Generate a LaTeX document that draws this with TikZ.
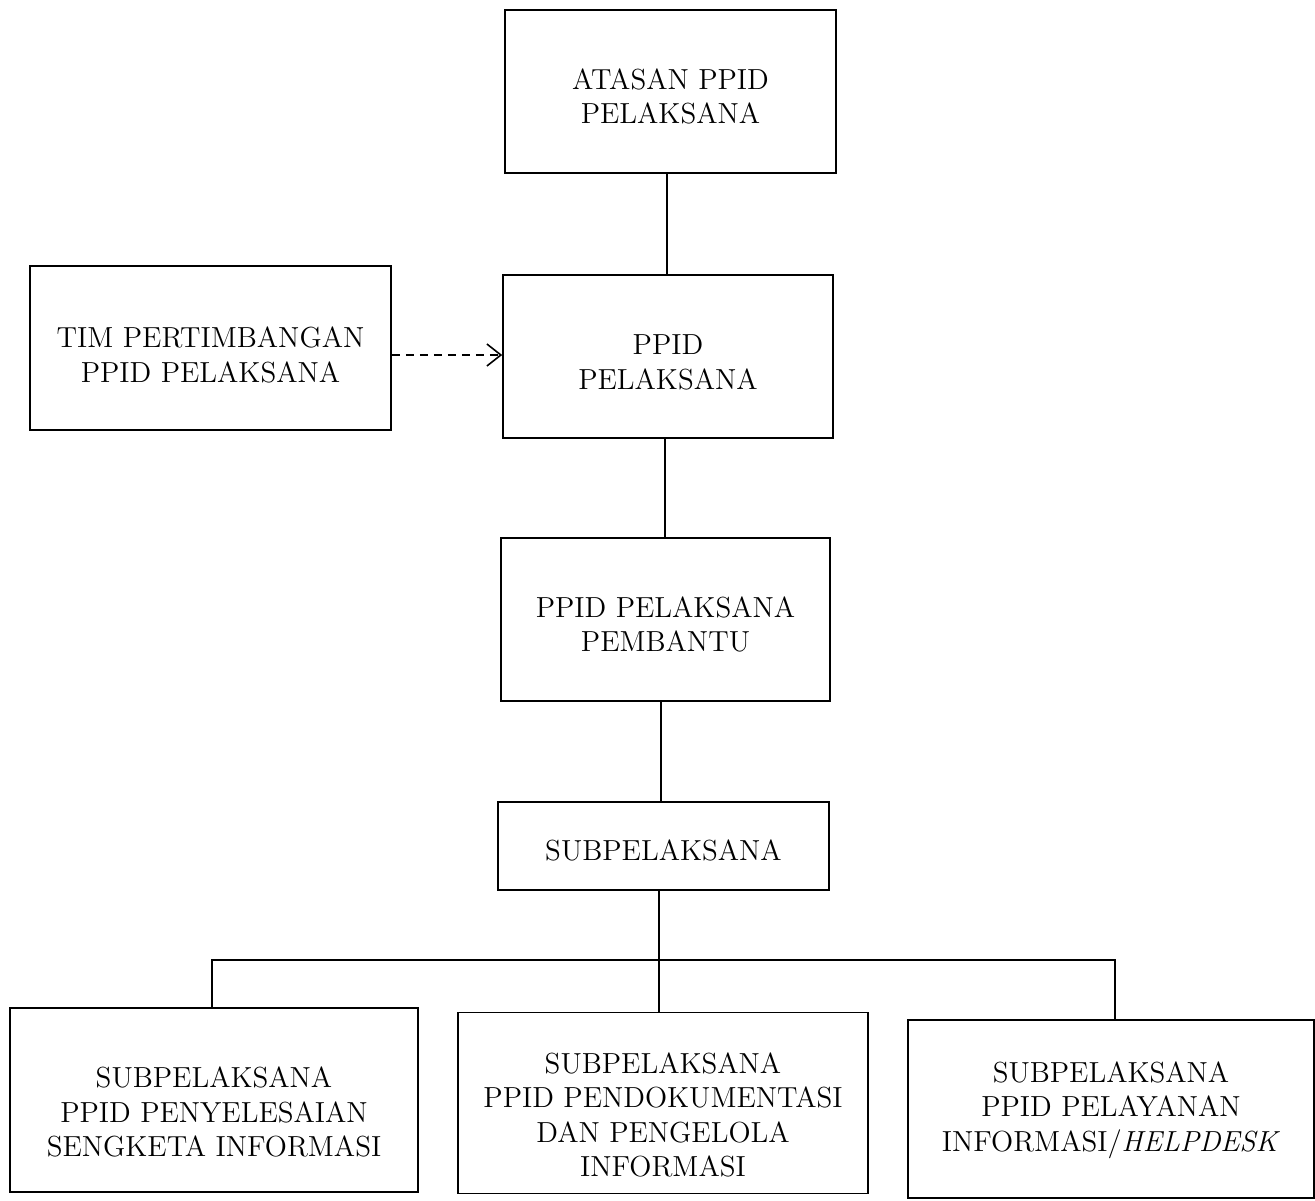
\documentclass[tikz,border=0pt]{standalone}
\usetikzlibrary{arrows.meta}
\begin{document}
\begin{tikzpicture}[x=0.5pt,y=-0.5pt,
  orgbox/.style={draw, line width=0.8pt, inner sep=0pt},
  txt/.style={align=center, inner sep=0pt, font=\fontsize{14.5}{17.3}\selectfont},
  conn/.style={line width=0.7pt},
  dashconn/.style={line width=0.8pt, dash pattern=on 4pt off 3pt,
    -{Straight Barb[length=7pt,width=11pt,line width=0.8pt]}}]
\useasboundingbox (0,0) rectangle (1315,1200);
\node[orgbox, minimum width=165.5pt, minimum height=81.5pt,
  label={[txt,yshift=-2.5pt]center:ATASAN PPID\\PELAKSANA}] (top) at (670.5,91.5) {};
\node[orgbox, minimum width=165pt, minimum height=81.5pt,
  label={[txt,yshift=-3pt]center:PPID\\PELAKSANA}] (ppid) at (668,356.5) {};
\node[orgbox, minimum width=180.5pt, minimum height=82pt,
  label={[txt,yshift=-3.5pt]center:TIM PERTIMBANGAN\\PPID PELAKSANA}] (tim) at (210.5,348) {};
\node[orgbox, minimum width=164.5pt, minimum height=81.5pt,
  label={[txt,yshift=-2.5pt]center:PPID PELAKSANA\\PEMBANTU}] (pemb) at (665.5,619.5) {};
\node[orgbox, minimum width=165.5pt, minimum height=44pt,
  label={[txt,yshift=-2pt]center:SUBPELAKSANA}] (sub) at (663.5,846) {};
\node[orgbox, minimum width=204pt, minimum height=92pt,
  label={[txt,yshift=-6pt]center:SUBPELAKSANA\\PPID PENYELESAIAN\\SENGKETA INFORMASI}] (left) at (214,1100) {};
\node[orgbox, minimum width=205pt, minimum height=90.5pt,
  label={[txt,yshift=-6pt]center:SUBPELAKSANA\\PPID PENDOKUMENTASI\\DAN PENGELOLA\\INFORMASI}] (mid) at (663,1103) {};
\node[orgbox, minimum width=203pt, minimum height=89pt,
  label={[txt,yshift=-0.5pt]center:SUBPELAKSANA\\PPID PELAYANAN\\INFORMASI/\textit{HELPDESK}}] (right) at (1111,1109) {};
\coordinate (x1) at (667,0);
\coordinate (x2) at (665,0);
\coordinate (x3) at (661,0);
\coordinate (x4) at (659,0);
\coordinate (xl) at (212,0);
\coordinate (xr) at (1115,0);
\coordinate (bus) at (659,960);
\draw[conn] (x1 |- top.south) -- (x1 |- ppid.north);
\draw[conn] (x2 |- ppid.south) -- (x2 |- pemb.north);
\draw[conn] (x3 |- pemb.south) -- (x3 |- sub.north);
\draw[conn] (x4 |- sub.south) -- (x4 |- mid.north);
\draw[conn] (xl |- left.north) |- (bus) -| (xr |- right.north);
\draw[dashconn] ([yshift=-3.5pt]tim.east) -- ([yshift=-3.5pt]tim.east -| ppid.west);
\end{tikzpicture}
\end{document}
